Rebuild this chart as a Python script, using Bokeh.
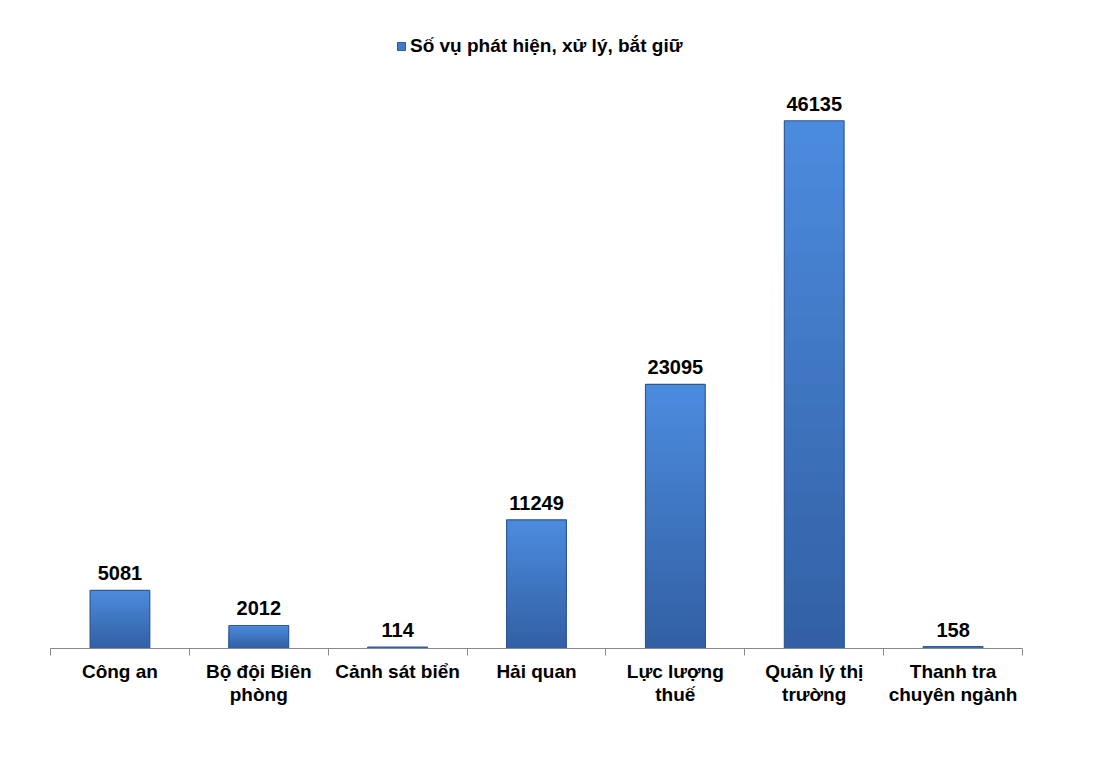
from bokeh.plotting import figure
from bokeh.models import ColumnDataSource, Range1d, FixedTicker, Legend, LegendItem
from bokeh.core.properties import value
from bokeh.embed import file_html
from bokeh.resources import INLINE

categories = ["Công an", "Bộ đội Biên\nphòng", "Cảnh sát biển", "Hải quan",
              "Lực lượng\nthuế", "Quản lý thị\ntrường", "Thanh tra\nchuyên ngành"]
values = [5081, 2012, 114, 11249, 23095, 46135, 158]
series_name = "Số vụ phát hiện, xử lý, bắt giữ"

FONT = "Liberation Sans"
xs = [i + 0.5 for i in range(len(categories))]
src = ColumnDataSource(dict(x=xs, top=values, label=[str(v) for v in values]))

p = figure(width=1077, height=757, output_backend="svg", toolbar_location=None,
           x_range=Range1d(0, len(categories)), y_range=Range1d(0, 54200),
           min_border_left=50, min_border_right=55, min_border_top=28,
           min_border_bottom=109)
p.outline_line_color = None
p.xgrid.grid_line_color = None
p.ygrid.grid_line_color = None
p.yaxis.visible = False
p.background_fill_color = "white"
p.border_fill_color = "white"

# vertical gradient per bar (light at top, darker at the base); overlapping
# layers from the full height downwards so that no seams appear
top_rgb = (0x4b, 0x8b, 0xdd)
bot_rgb = (0x33, 0x60, 0xa4)
N = 24
for k in range(N):
    t = k / (N - 1)
    c = tuple(int(round(a + (b - a) * t)) for a, b in zip(top_rgb, bot_rgb))
    p.vbar(x=xs, bottom=0, top=[v * (N - k) / N for v in values],
           width=0.43, fill_color="#%02x%02x%02x" % c, line_color=None)

r = p.vbar(x="x", top="top", bottom=0, width=0.43, source=src,
           fill_color=None, line_color="#2f5a96", line_width=1.2)

p.text(x="x", y="top", text="label", source=src, y_offset=-10,
       text_align="center", text_baseline="bottom",
       text_font=value(FONT), text_font_style="bold", text_font_size="20px",
       text_color="#000000")

ax = p.xaxis[0]
ax.ticker = FixedTicker(ticks=xs, minor_ticks=list(range(len(categories) + 1)))
ax.major_label_overrides = {x: c for x, c in zip(xs, categories)}
ax.major_tick_line_color = None
ax.minor_tick_line_color = "#888888"
ax.minor_tick_out = 7
ax.minor_tick_in = 0
ax.axis_line_color = "#888888"
ax.axis_line_width = 1
ax.major_label_text_font = FONT
ax.major_label_text_font_style = "bold"
ax.major_label_text_font_size = "19px"
ax.major_label_text_line_height = 1.1
ax.major_label_text_color = "#000000"
ax.major_label_standoff = 5

glyph_r = p.vbar(x=[-10], top=[0], width=0.1, fill_color="#3f7ac8", line_color="#2f5a96")
legend = Legend(items=[LegendItem(label=series_name, renderers=[glyph_r])],
                location=(346, 591), orientation="horizontal",
                label_text_font=FONT, label_text_font_style="bold",
                label_text_font_size="19px", label_text_color="#000000",
                glyph_width=10, glyph_height=10, label_standoff=4,
                border_line_color=None, background_fill_alpha=0,
                padding=2, margin=0, spacing=0)
p.add_layout(legend)

open("out.html", "w").write(file_html(p, INLINE))
